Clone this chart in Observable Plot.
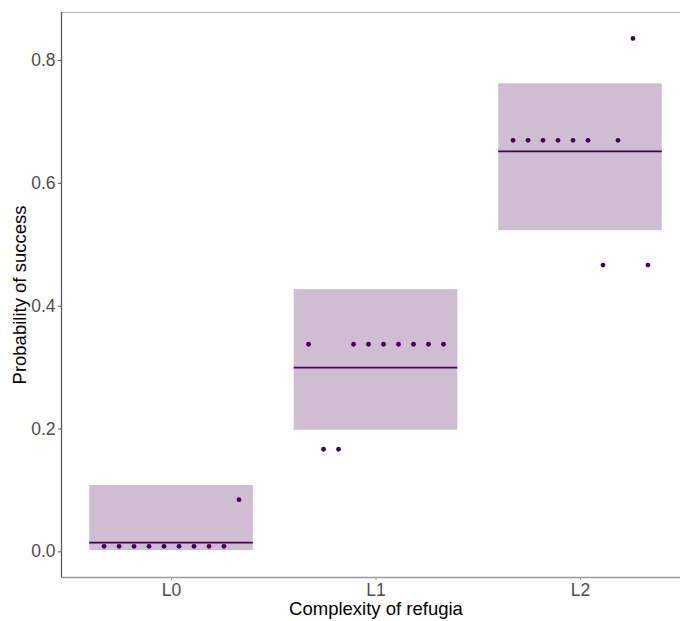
<!DOCTYPE html>
<html>
<head>
<meta charset="utf-8">
<script src="https://cdn.jsdelivr.net/npm/d3@7"></script>
<script src="https://cdn.jsdelivr.net/npm/@observablehq/plot@0.6"></script>
<style>
  html, body { margin: 0; padding: 0; background: #fff; overflow: hidden; }
  #chart svg { display: block; font-family: "Liberation Sans", Arial, sans-serif; }
</style>
</head>
<body>
<div id="chart"></div>
<script>
// Refugia complexity levels
const categories = ["L0", "L1", "L2"];

// Interval (shaded band) and mean estimate per level
const bandLow  = [0.002, 0.198, 0.523];
const bandHigh = [0.108, 0.427, 0.762];
const means    = [0.015, 0.300, 0.652];

// Observed success proportions per replicate, in plotting order
const obsL0 = [0.009, 0.009, 0.009, 0.009, 0.009, 0.009, 0.009, 0.009, 0.009, 0.085];
const obsL1 = [0.338, 0.167, 0.167, 0.338, 0.338, 0.338, 0.338, 0.338, 0.338, 0.338];
const obsL2 = [0.670, 0.670, 0.670, 0.670, 0.670, 0.670, 0.467, 0.670, 0.836, 0.467];

const yTicks = [0, 0.2, 0.4, 0.6, 0.8];

const purple = "#440154";

const bands = categories.map((c, i) => ({i, low: bandLow[i], high: bandHigh[i], mean: means[i]}));

// Replicates are spread evenly across the width of each band
const observations = [obsL0, obsL1, obsL2].flatMap((vals, i) =>
  vals.map((v, j) => ({x: i + (j - (vals.length - 1) / 2) * 0.0733, y: v}))
);

const xDomain = [-0.538, 2.489];
const yDomain = [-0.0418, 0.8782];

const chart = Plot.plot({
  width: 680,
  height: 621,
  marginLeft: 61,
  marginRight: 0,
  marginTop: 12,
  marginBottom: 44,
  x: {domain: xDomain},
  y: {domain: yDomain},
  marks: [
    Plot.rect(bands, {x1: d => d.i - 0.4, x2: d => d.i + 0.4, y1: "low", y2: "high", fill: purple, fillOpacity: 0.26}),
    Plot.ruleY(bands, {x1: d => d.i - 0.4, x2: d => d.i + 0.4, y: "mean", stroke: purple, strokeWidth: 1.6}),
    Plot.dot(observations, {x: "x", y: "y", r: 2.4, fill: purple, stroke: null}),
    // panel outline
    Plot.ruleY([yDomain[1]], {stroke: "#b3b3b3", strokeWidth: 1.2}),
    Plot.ruleY([yDomain[0]], {stroke: "#9a9a9a", strokeWidth: 1.6}),
    Plot.ruleX([xDomain[0]], {stroke: "#555", strokeWidth: 1.2}),
    Plot.axisY({
      ticks: yTicks, tickFormat: d3.format(".1f"), tickSize: 3, tickPadding: 3,
      fontSize: 17.5, color: "#4d4d4d", stroke: "#555", label: null
    }),
    Plot.axisX({
      ticks: [0, 1, 2], tickFormat: i => categories[i], tickSize: 3, tickPadding: 3,
      fontSize: 17.5, color: "#4d4d4d", stroke: "#999", label: null
    }),
    Plot.text(["Probability of success"], {
      frameAnchor: "left", textAnchor: "middle", lineAnchor: "middle",
      dx: -41, rotate: -90, fontSize: 18.5, fill: "#000"
    }),
    Plot.text(["Complexity of refugia"], {
      x: () => 1, frameAnchor: "bottom", lineAnchor: "middle",
      dy: 32, fontSize: 18.5, fill: "#000"
    })
  ]
});

document.getElementById("chart").appendChild(chart);
</script>
</body>
</html>
